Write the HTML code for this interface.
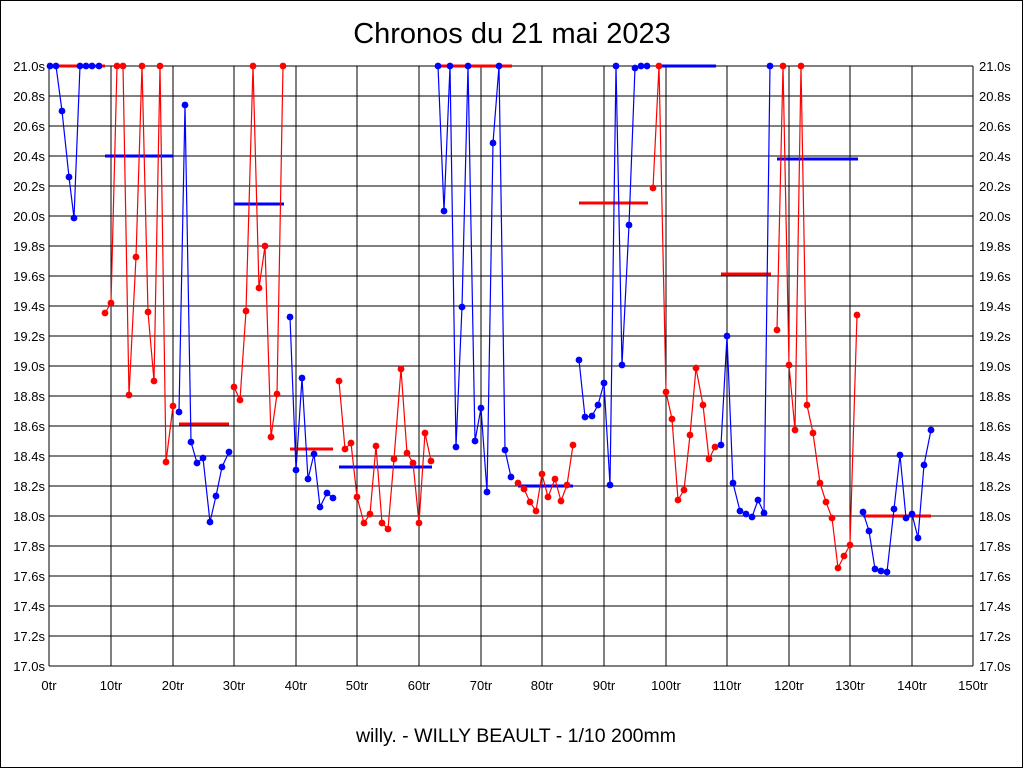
<!DOCTYPE html>
<html><head><meta charset="utf-8"><style>
html,body{margin:0;padding:0;background:#fff}
svg{display:block}
text{font-family:"Liberation Sans",sans-serif;fill:#000}
</style></head><body>
<svg width="1024" height="768" viewBox="0 0 1024 768" xmlns="http://www.w3.org/2000/svg">
<defs>
<marker id="mb" markerWidth="8" markerHeight="8" refX="4" refY="4" markerUnits="userSpaceOnUse"><circle cx="4" cy="4" r="3.4" fill="#0000ff"/></marker>
<marker id="mr" markerWidth="8" markerHeight="8" refX="4" refY="4" markerUnits="userSpaceOnUse"><circle cx="4" cy="4" r="3.4" fill="#ff0000"/></marker>
</defs>
<rect x="0.5" y="0.5" width="1022" height="767" fill="#fff" stroke="#000"/>
<text x="512" y="43" font-size="29" text-anchor="middle">Chronos du 21 mai 2023</text>
<text x="516" y="742" font-size="19.5" text-anchor="middle">willy. - WILLY BEAULT - 1/10 200mm</text>
<g stroke="#000" stroke-width="1" shape-rendering="crispEdges">
<path d="M49 66H973M49 96H973M49 126H973M49 156H973M49 186H973M49 216H973M49 246H973M49 276H973M49 306H973M49 336H973M49 366H973M49 396H973M49 426H973M49 456H973M49 486H973M49 516H973M49 546H973M49 576H973M49 606H973M49 636H973M49 666H973"/>
<path d="M49 66V666M111 66V666M173 66V666M234 66V666M296 66V666M357 66V666M419 66V666M481 66V666M542 66V666M604 66V666M666 66V666M727 66V666M789 66V666M850 66V666M912 66V666M973 66V666"/>
</g>
<g font-size="13" text-anchor="end">
<text x="45" y="71">21.0s</text><text x="45" y="101">20.8s</text><text x="45" y="131">20.6s</text><text x="45" y="161">20.4s</text><text x="45" y="191">20.2s</text><text x="45" y="221">20.0s</text><text x="45" y="251">19.8s</text><text x="45" y="281">19.6s</text><text x="45" y="311">19.4s</text><text x="45" y="341">19.2s</text><text x="45" y="371">19.0s</text><text x="45" y="401">18.8s</text><text x="45" y="431">18.6s</text><text x="45" y="461">18.4s</text><text x="45" y="491">18.2s</text><text x="45" y="521">18.0s</text><text x="45" y="551">17.8s</text><text x="45" y="581">17.6s</text><text x="45" y="611">17.4s</text><text x="45" y="641">17.2s</text><text x="45" y="671">17.0s</text>
</g>
<g font-size="13">
<text x="979" y="71">21.0s</text><text x="979" y="101">20.8s</text><text x="979" y="131">20.6s</text><text x="979" y="161">20.4s</text><text x="979" y="191">20.2s</text><text x="979" y="221">20.0s</text><text x="979" y="251">19.8s</text><text x="979" y="281">19.6s</text><text x="979" y="311">19.4s</text><text x="979" y="341">19.2s</text><text x="979" y="371">19.0s</text><text x="979" y="401">18.8s</text><text x="979" y="431">18.6s</text><text x="979" y="461">18.4s</text><text x="979" y="491">18.2s</text><text x="979" y="521">18.0s</text><text x="979" y="551">17.8s</text><text x="979" y="581">17.6s</text><text x="979" y="611">17.4s</text><text x="979" y="641">17.2s</text><text x="979" y="671">17.0s</text>
</g>
<g font-size="13" text-anchor="middle">
<text x="49" y="690">0tr</text><text x="111" y="690">10tr</text><text x="173" y="690">20tr</text><text x="234" y="690">30tr</text><text x="296" y="690">40tr</text><text x="357" y="690">50tr</text><text x="419" y="690">60tr</text><text x="481" y="690">70tr</text><text x="542" y="690">80tr</text><text x="604" y="690">90tr</text><text x="666" y="690">100tr</text><text x="727" y="690">110tr</text><text x="789" y="690">120tr</text><text x="850" y="690">130tr</text><text x="912" y="690">140tr</text><text x="973" y="690">150tr</text>
</g>
<g stroke-width="3">
<path d="M56 66H105" stroke="#f00"/>
<path d="M105 156H173" stroke="#00f"/>
<path d="M179 424H229" stroke="#f00"/>
<path d="M234 204H284" stroke="#00f"/>
<path d="M290 449H333" stroke="#f00"/>
<path d="M339 467H432" stroke="#00f"/>
<path d="M438 66H512" stroke="#f00"/>
<path d="M518 486H573" stroke="#00f"/>
<path d="M579 203H648" stroke="#f00"/>
<path d="M659 66H716" stroke="#00f"/>
<path d="M721 274H771" stroke="#f00"/>
<path d="M777 159H858" stroke="#00f"/>
<path d="M863 516H931" stroke="#f00"/>
</g>
<g fill="none" stroke-width="1.2">
<polyline stroke="#00f" marker-start="url(#mb)" marker-mid="url(#mb)" marker-end="url(#mb)" points="50,66 56,66 62,111 69,177 74,218 80,66 86,66 92,66 99,66"/>
<polyline stroke="#f00" marker-start="url(#mr)" marker-mid="url(#mr)" marker-end="url(#mr)" points="105,313 111,303 117,66 123,66 129,395 136,257 142,66 148,312 154,381 160,66 166,462 173,406"/>
<polyline stroke="#00f" marker-start="url(#mb)" marker-mid="url(#mb)" marker-end="url(#mb)" points="179,412 185,105 191,442 197,463 203,458 210,522 216,496 222,467 229,452"/>
<polyline stroke="#f00" marker-start="url(#mr)" marker-mid="url(#mr)" marker-end="url(#mr)" points="234,387 240,400 246,311 253,66 259,288 265,246 271,437 277,394 283,66"/>
<polyline stroke="#00f" marker-start="url(#mb)" marker-mid="url(#mb)" marker-end="url(#mb)" points="290,317 296,470 302,378 308,479 314,454 320,507 327,493 333,498"/>
<polyline stroke="#f00" marker-start="url(#mr)" marker-mid="url(#mr)" marker-end="url(#mr)" points="339,381 345,449 351,443 357,497 364,523 370,514 376,446 382,523 388,529 394,459 401,369 407,453 413,463 419,523 425,433 431,461"/>
<polyline stroke="#00f" marker-start="url(#mb)" marker-mid="url(#mb)" marker-end="url(#mb)" points="438,66 444,211 450,66 456,447 462,307 468,66 475,441 481,408 487,492 493,143 499,66 505,450 511,477"/>
<polyline stroke="#f00" marker-start="url(#mr)" marker-mid="url(#mr)" marker-end="url(#mr)" points="518,483 524,489 530,502 536,511 542,474 548,497 555,479 561,501 567,485 573,445"/>
<polyline stroke="#00f" marker-start="url(#mb)" marker-mid="url(#mb)" marker-end="url(#mb)" points="579,360 585,417 592,416 598,405 604,383 610,485 616,66 622,365 629,225 635,68 641,66 647,66"/>
<polyline stroke="#f00" marker-start="url(#mr)" marker-mid="url(#mr)" marker-end="url(#mr)" points="653,188 659,66 666,392 672,419 678,500 684,490 690,435 696,368 703,405 709,459 715,447"/>
<polyline stroke="#00f" marker-start="url(#mb)" marker-mid="url(#mb)" marker-end="url(#mb)" points="721,445 727,336 733,483 740,511 746,514 752,517 758,500 764,513 770,66"/>
<polyline stroke="#f00" marker-start="url(#mr)" marker-mid="url(#mr)" marker-end="url(#mr)" points="777,330 783,66 789,365 795,430 801,66 807,405 813,433 820,483 826,502 832,518 838,568 844,556 850,545 857,315"/>
<polyline stroke="#00f" marker-start="url(#mb)" marker-mid="url(#mb)" marker-end="url(#mb)" points="863,512 869,531 875,569 881,571 887,572 894,509 900,455 906,518 912,514 918,538 924,465 931,430"/>
</g>
</svg>
</body></html>
